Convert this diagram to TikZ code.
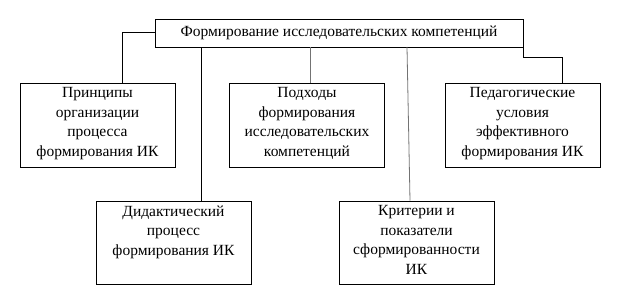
\documentclass[tikz,border=0pt]{standalone}
\usepackage{fontspec}
\setmainfont{Liberation Serif}
\begin{document}
\begin{tikzpicture}[x=1pt,y=-1pt,
  boxx/.style={draw,line width=0.8pt,minimum width=155pt,inner sep=0pt},
  txt/.style={anchor=north,align=center,inner sep=0pt,font=\fontsize{15.5}{19.5}\selectfont},
  conn/.style={line width=0.8pt},
  connb/.style={line width=0.8pt,draw=black!55}]
\useasboundingbox (0,0) rectangle (627,305);
\node[boxx,minimum width=368pt,minimum height=28pt,font=\fontsize{15.5}{19.5}\selectfont] (top) at (339,33) {Формирование исследовательских компетенций};
\node[boxx,minimum height=84pt] (b1) at (97.5,125) {};
\node[boxx,minimum height=84pt] (b2) at (307,125) {};
\node[boxx,minimum height=84pt] (b3) at (522.5,125) {};
\node[boxx,minimum height=83pt] (b4) at (173.5,242.5) {};
\node[boxx,minimum height=83pt] (b5) at (416.5,242.5) {};
\node[txt] (t1) at ([yshift=-5pt]b1.north) {Принципы\\организации\\процесса\\формирования ИК};
\node[txt] (t2) at ([yshift=-5pt]b2.north) {Подходы\\формирования\\исследовательских\\компетенций};
\node[txt] (t3) at ([yshift=-5pt]b3.north) {Педагогические\\условия\\эффективного\\формирования ИК};
\node[txt] (t4) at ([yshift=-5pt]b4.north) {Дидактический\\процесс\\формирования ИК};
\node[txt] (t5) at ([yshift=-5pt]b5.north) {Критерии и\\показатели\\сформированности\\ИК};
\coordinate (l1) at (top.west |- 0,32);
\coordinate (l1b) at (122,0);
\draw[conn] (l1) -| (l1b |- b1.north);
\coordinate (r1) at (top.south east);
\coordinate (r2) at (562,57);
\draw[conn] (r1) |- (r2) -- (r2 |- b3.north);
\draw[conn] (201,0 |- top.south) coordinate (d1) -- (d1 |- b4.north);
\draw[connb] (310,0 |- top.south) coordinate (d2) -- (d2 |- b2.north);
\coordinate (d3) at (407,47);
\coordinate (d3b) at (410,0);
\draw[connb] (d3) -- (d3b |- b5.north);
\end{tikzpicture}
\end{document}
